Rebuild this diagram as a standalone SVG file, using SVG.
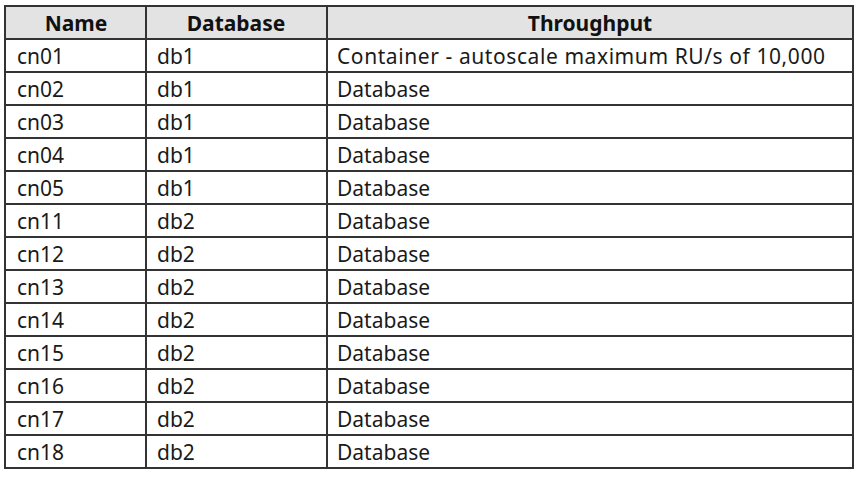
<svg xmlns="http://www.w3.org/2000/svg" width="862" height="477" viewBox="0 0 862 477">
<style>
text{font-family:"Noto Sans","Open Sans","Liberation Sans",sans-serif;font-size:21px;fill:#1a1a1a}
.h{font-weight:bold;text-anchor:middle;fill:#111}
.g line{stroke:#333;stroke-width:2}
</style>
<rect x="0" y="0" width="862" height="477" fill="#fff"/>
<rect x="5" y="6" width="848" height="33" fill="#e3e3e3"/>
<g id="header">
<text class="h" x="76" y="31">Name</text>
<text class="h" x="236" y="31">Database</text>
<text class="h" x="590" y="31">Throughput</text>
</g>
<g id="rows">
<text x="17" y="64">cn01</text><text x="157" y="64">db1</text><text x="337" y="64" textLength="488" lengthAdjust="spacing">Container - autoscale maximum RU/s of 10,000</text>
<text x="17" y="97">cn02</text><text x="157" y="97">db1</text><text x="337" y="97">Database</text>
<text x="17" y="130">cn03</text><text x="157" y="130">db1</text><text x="337" y="130">Database</text>
<text x="17" y="163">cn04</text><text x="157" y="163">db1</text><text x="337" y="163">Database</text>
<text x="17" y="196">cn05</text><text x="157" y="196">db1</text><text x="337" y="196">Database</text>
<text x="17" y="229">cn11</text><text x="157" y="229">db2</text><text x="337" y="229">Database</text>
<text x="17" y="262">cn12</text><text x="157" y="262">db2</text><text x="337" y="262">Database</text>
<text x="17" y="295">cn13</text><text x="157" y="295">db2</text><text x="337" y="295">Database</text>
<text x="17" y="328">cn14</text><text x="157" y="328">db2</text><text x="337" y="328">Database</text>
<text x="17" y="361">cn15</text><text x="157" y="361">db2</text><text x="337" y="361">Database</text>
<text x="17" y="394">cn16</text><text x="157" y="394">db2</text><text x="337" y="394">Database</text>
<text x="17" y="427">cn17</text><text x="157" y="427">db2</text><text x="337" y="427">Database</text>
<text x="17" y="460">cn18</text><text x="157" y="460">db2</text><text x="337" y="460">Database</text>
</g>
<g id="grid" class="g">
<line x1="5" y1="6" x2="853" y2="6"/>
<line x1="5" y1="39" x2="853" y2="39"/>
<line x1="5" y1="72" x2="853" y2="72"/>
<line x1="5" y1="105" x2="853" y2="105"/>
<line x1="5" y1="138" x2="853" y2="138"/>
<line x1="5" y1="171" x2="853" y2="171"/>
<line x1="5" y1="204" x2="853" y2="204"/>
<line x1="5" y1="237" x2="853" y2="237"/>
<line x1="5" y1="270" x2="853" y2="270"/>
<line x1="5" y1="303" x2="853" y2="303"/>
<line x1="5" y1="336" x2="853" y2="336"/>
<line x1="5" y1="369" x2="853" y2="369"/>
<line x1="5" y1="402" x2="853" y2="402"/>
<line x1="5" y1="435" x2="853" y2="435"/>
<line x1="5" y1="468" x2="853" y2="468"/>
<line x1="5" y1="5" x2="5" y2="469"/>
<line x1="146" y1="6" x2="146" y2="468"/>
<line x1="327" y1="6" x2="327" y2="468"/>
<line x1="853" y1="5" x2="853" y2="469"/>
</g>
</svg>
